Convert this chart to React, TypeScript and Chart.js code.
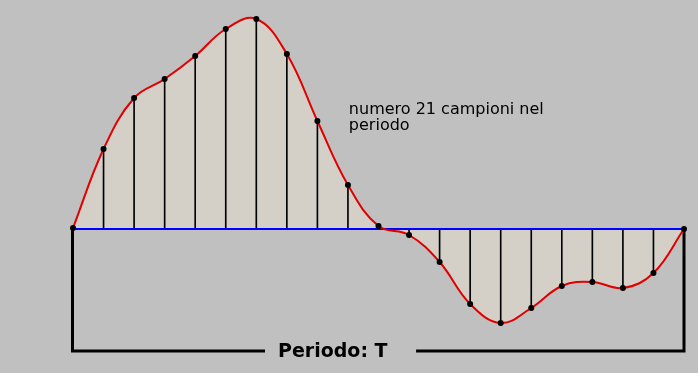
import { useEffect, useRef } from "react";
import { Chart, registerables } from "chart.js";

Chart.register(...registerables);

// 21 samples over one period
const sampleIndex = [0, 1, 2, 3, 4, 5, 6, 7, 8, 9, 10, 11, 12, 13, 14, 15, 16, 17, 18, 19, 20];
const sampleValues = [1, 80, 131, 150, 173, 200, 210, 175, 108, 44, 3, -6, -33, -75, -94, -79, -57, -53, -59, -44, 0];
const axisIndex = [0, 20];
const axisValues = [0, 0];
const periodLabel = "Periodo: T";
const noteLines = ["numero 21 campioni nel", "periodo"];

const points = sampleIndex.map((x, i) => ({ x, y: sampleValues[i] }));
const axisPoints = axisIndex.map((x, i) => ({ x, y: axisValues[i] }));

const overlayPlugin = {
  id: "overlay",
  beforeDatasetsDraw(chart: any, _args: any, opts: any) {
    const { ctx } = chart;
    const x = chart.scales.x;
    const y = chart.scales.y;
    const xl = x.getPixelForValue(sampleIndex[0]);
    const xr = x.getPixelForValue(sampleIndex[sampleIndex.length - 1]);
    const y0 = y.getPixelForValue(0);
    const yb = y.getPixelForValue(opts.bracketLevel);
    ctx.save();
    ctx.strokeStyle = "#000000";
    ctx.lineWidth = 3;
    ctx.lineCap = "butt";
    ctx.lineJoin = "miter";
    ctx.beginPath();
    ctx.moveTo(xl - 0.5, y0);
    ctx.lineTo(xl - 0.5, yb);
    ctx.lineTo(x.getPixelForValue(opts.gapFrom), yb);
    ctx.moveTo(x.getPixelForValue(opts.gapTo), yb);
    ctx.lineTo(xr, yb);
    ctx.lineTo(xr, y0);
    ctx.stroke();
    ctx.restore();
  },
  afterDatasetsDraw(chart: any, _args: any, opts: any) {
    const { ctx } = chart;
    const x = chart.scales.x;
    const y = chart.scales.y;
    ctx.save();
    ctx.fillStyle = "#000000";
    ctx.textBaseline = "alphabetic";
    ctx.textAlign = "left";
    ctx.font = 'bold 19px "DejaVu Sans"';
    ctx.fillText(periodLabel, x.getPixelForValue(opts.labelX), y.getPixelForValue(opts.labelY));
    ctx.font = '16px "DejaVu Sans"';
    noteLines.forEach((line, i) => {
      ctx.fillText(line, x.getPixelForValue(opts.noteX), y.getPixelForValue(opts.noteY) + i * 16);
    });
    ctx.restore();
  },
};

export default function App() {
  const canvasRef = useRef<HTMLCanvasElement | null>(null);

  useEffect(() => {
    if (!canvasRef.current) return;
    const chart = new Chart(canvasRef.current, {
      type: "bar",
      data: {
        datasets: [
          {
            type: "line",
            data: points,
            borderWidth: 0,
            borderColor: "rgba(0,0,0,0)",
            backgroundColor: "#d4d0c8",
            fill: "origin",
            tension: 0.4,
            pointRadius: 0,
            order: 4,
            clip: false,
          } as any,
          {
            type: "bar",
            data: points,
            backgroundColor: "#000000",
            barThickness: 1,
            grouped: false,
            order: 3,
          } as any,
          {
            type: "line",
            data: axisPoints,
            borderColor: "#0000ff",
            borderWidth: 2,
            pointRadius: 0,
            fill: false,
            order: 2,
            clip: false,
          } as any,
          {
            type: "line",
            data: points,
            borderColor: "#e00000",
            borderWidth: 2,
            tension: 0.4,
            fill: false,
            pointRadius: 3,
            pointBackgroundColor: "#000000",
            pointBorderWidth: 0,
            order: 1,
            clip: false,
          } as any,
        ],
      },
      options: {
        animation: false,
        responsive: false,
        maintainAspectRatio: false,
        devicePixelRatio: 1,
        layout: { autoPadding: false, padding: { left: 73, right: 14, top: 0, bottom: 0 } },
        scales: {
          x: { type: "linear", min: 0, max: 20, display: false, offset: false },
          y: { type: "linear", min: -144, max: 229, display: false },
        },
        plugins: {
          legend: { display: false },
          tooltip: { enabled: false },
          overlay: {
            bracketLevel: -122,
            gapFrom: 6.285,
            gapTo: 11.23,
            labelX: 6.71,
            labelY: -128,
            noteX: 9.03,
            noteY: 115,
          },
        } as any,
      } as any,
      plugins: [overlayPlugin],
    });
    return () => chart.destroy();
  }, []);

  return (
    <div
      style={{
        position: "fixed",
        left: 0,
        top: 0,
        width: 698,
        height: 373,
        background: "#c0c0c0",
      }}
    >
      <canvas ref={canvasRef} width={698} height={373} style={{ display: "block" }} />
    </div>
  );
}
